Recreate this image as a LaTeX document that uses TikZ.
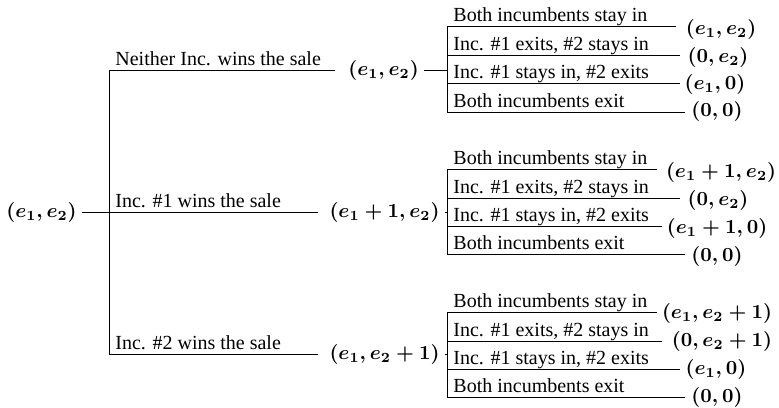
\documentclass[tikz,border=0pt]{standalone}
\usepackage[no-math]{fontspec}
\setmainfont{Liberation Serif}
\begin{document}
\begin{tikzpicture}[x=0.5pt,y=-0.5pt,
  lbl/.style={anchor=base west, inner sep=0pt, font=\fontsize{10}{12}\selectfont},
  pay/.style={inner sep=2.5pt, font=\fontsize{10}{12}\selectfont\boldmath},
  ln/.style={line width=0.5pt, black}]
\useasboundingbox (0,0) rectangle (779,407);
% root
\node[pay] (root) at (41.5,212) {$(e_1,e_2)$};
% first-stage outcomes
\node[pay] (m1) at (383.5,70) {$(e_1,e_2)$};
\node[pay] (m2) at (384.5,212) {$(e_1+1,e_2)$};
\node[pay] (m3) at (384.5,354) {$(e_1,e_2+1)$};
\coordinate (b1s) at (109,70);
\coordinate (b1e) at (335,70);
\coordinate (b2e) at (318,212);
\coordinate (b3s) at (109,354);
\coordinate (b3e) at (318,354);
\draw[ln] (b1e) -- (b1s) -- (b3s) -- (b3e);
\draw[ln] (root.east) -- (b2e);
\node[lbl] (n1) at (115,65.5) {Neither Inc. wins the sale};
\node[lbl] (n2) at (115,207.5) {Inc. \#1 wins the sale};
\node[lbl] (n3) at (115,349.5) {Inc. \#2 wins the sale};
% second-stage spines
\coordinate (v1t) at (447,26);  \coordinate (v1b) at (447,112); \coordinate (v1m) at (447,70);
\coordinate (v2t) at (447,169); \coordinate (v2b) at (447,254); \coordinate (v2m) at (447,212);
\coordinate (v3t) at (447,312); \coordinate (v3b) at (447,397); \coordinate (v3m) at (447,354);
\draw[ln] (v1t) -- (v1b);
\draw[ln] (v2t) -- (v2b);
\draw[ln] (v3t) -- (v3b);
\draw[ln] (m1.east) -- (v1m);
\draw[ln] (m2.east) -- (v2m);
\draw[ln] (m3.east) -- (v3m);
% second-stage branches
\foreach \n/\y/\xe/\px/\py/\lab/\po in {
  a1/26/676/721/29/{Both incumbents stay in}/{(e_1,e_2)},
  a2/55/680/718/57/{Inc. \#1 exits, \#2 stays in}/{(0,e_2)},
  a3/83/680/715/84/{Inc. \#1 stays in, \#2 exits}/{(e_1,0)},
  a4/112/685/717/111/{Both incumbents exit}/{(0,0)},
  b1/169/657/721/172/{Both incumbents stay in}/{(e_1+1,e_2)},
  b2/198/680/718/200/{Inc. \#1 exits, \#2 stays in}/{(0,e_2)},
  b3/226/662/717/228/{Inc. \#1 stays in, \#2 exits}/{(e_1+1,0)},
  b4/254/685/717/256/{Both incumbents exit}/{(0,0)},
  c1/312/657/717/313/{Both incumbents stay in}/{(e_1,e_2+1)},
  c2/341/662/722/341/{Inc. \#1 exits, \#2 stays in}/{(0,e_2+1)},
  c3/369/680/716/369/{Inc. \#1 stays in, \#2 exits}/{(e_1,0)},
  c4/397/685/717/397/{Both incumbents exit}/{(0,0)}}{
  \node[pay] (p\n) at (\px,\py) {$\po$};
  \coordinate (s\n) at (447,\y);
  \coordinate (e\n) at (\xe,\y);
  \draw[ln] (s\n) -- (e\n);
  \node[lbl] (l\n) at (453,\y-4.5) {\lab};
}
\end{tikzpicture}
\end{document}
